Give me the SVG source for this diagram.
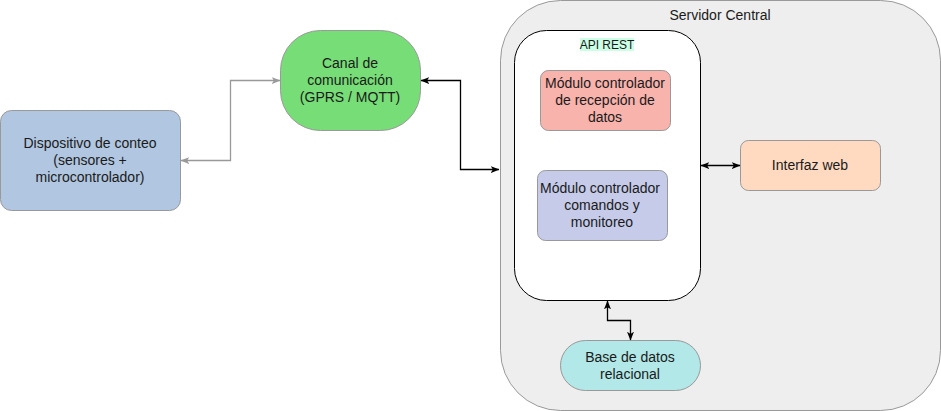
<svg xmlns="http://www.w3.org/2000/svg" width="941" height="411" viewBox="0 0 941 411">
<style>
text{font-family:"Liberation Sans",Arial,sans-serif;font-size:14px;fill:#1a1a1a;text-anchor:middle}
.n{stroke:#999999;stroke-width:1}
.c{fill:none;stroke-width:1.3}
.k{stroke:#000000}
.g{stroke:#999999}
</style>
<defs>
<marker id="ak" viewBox="0 0 10 8" markerWidth="9" markerHeight="7" refX="9.5" refY="4" orient="auto-start-reverse" markerUnits="userSpaceOnUse"><path d="M0,0 L10,4 L0,8 L2.5,4 Z" fill="#000"/></marker>
<marker id="ag" viewBox="0 0 10 8" markerWidth="9" markerHeight="7" refX="9.5" refY="4" orient="auto-start-reverse" markerUnits="userSpaceOnUse"><path d="M0,0 L10,4 L0,8 L2.5,4 Z" fill="#999999"/></marker>
</defs>
<rect width="941" height="411" fill="#ffffff"/>
<g id="servidor">
<rect class="n" x="500.5" y="0.5" width="440" height="410" rx="60" fill="#eeeeee"/>
<text x="720" y="20">Servidor Central</text>
</g>
<g id="api-rest">
<rect x="514.5" y="30.5" width="186" height="270" rx="32" fill="#ffffff" stroke="#000000"/>
<rect x="580" y="38" width="54" height="13" fill="#ccffe6"/>
<text x="607" y="48.5" style="font-size:12px">API REST</text>
</g>
<g id="dispositivo">
<rect class="n" x="0.5" y="110.5" width="180" height="100" rx="11" fill="#b1c6e0"/>
<text x="90" y="148">Dispositivo de conteo</text>
<text x="90" y="165">(sensores +</text>
<text x="90" y="182">microcontrolador)</text>
</g>
<g id="canal">
<rect class="n" x="280.5" y="30.5" width="140" height="100" rx="40" fill="#77dd77"/>
<text x="350" y="68">Canal de</text>
<text x="350" y="85">comunicación</text>
<text x="350" y="102">(GPRS / MQTT)</text>
</g>
<g id="modulo-recepcion">
<rect class="n" x="540.5" y="70.5" width="130" height="60" rx="8" fill="#f8b3ad"/>
<text x="605" y="88">Módulo controlador</text>
<text x="605" y="105">de recepción de</text>
<text x="605" y="122">datos</text>
</g>
<g id="modulo-comandos">
<rect class="n" x="537.5" y="170.5" width="130" height="70" rx="8" fill="#c5cbe9"/>
<text x="600" y="193">Módulo controlador</text>
<text x="602" y="210">comandos y</text>
<text x="602" y="227">monitoreo</text>
</g>
<g id="interfaz-web">
<rect class="n" x="740.5" y="140.5" width="140" height="50" rx="8" fill="#ffdac1"/>
<text x="810" y="170">Interfaz web</text>
</g>
<g id="base-datos">
<rect class="n" x="560.5" y="340.5" width="140" height="50" rx="25" fill="#b2e8e7"/>
<text x="630" y="362">Base de datos</text>
<text x="630" y="379">relacional</text>
</g>
<g id="connectors">
<path class="c g" d="M181,160.5 H230.5 V80.5 H280" marker-start="url(#ag)" marker-end="url(#ag)"/>
<path class="c k" d="M421,80.5 H460.5 V169.5 H499" marker-start="url(#ak)" marker-end="url(#ak)"/>
<path class="c k" d="M701,165.5 H740" marker-start="url(#ak)" marker-end="url(#ak)"/>
<path class="c k" d="M607.5,301 V320.5 H630.5 V340" marker-start="url(#ak)" marker-end="url(#ak)"/>
</g>
</svg>
